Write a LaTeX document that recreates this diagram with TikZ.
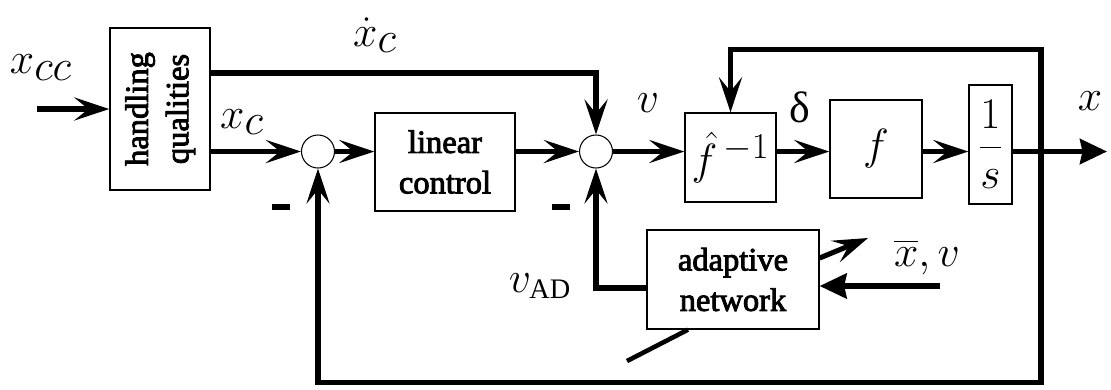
\documentclass[tikz,border=0pt]{standalone}
\usepackage{amsmath}
\usepackage{fontspec}
\setmainfont{Liberation Serif}
% texto grueso: relleno y trazo del contorno
\newcommand{\grueso}{\special{pdf:literal direct 2 Tr 0.5 w}}
\newcommand{\fino}{\special{pdf:literal direct 0 Tr}}
\usetikzlibrary{arrows.meta}

\begin{document}
\begin{tikzpicture}[
        bloque/.style={
            draw=black,
            line width=0.75pt,
            fill=white,
            inner sep=0pt,
            align=center,
            font=\fontsize{18.5}{23}\selectfont
        },
        suma/.style={
            circle,
            draw=black,
            line width=0.6pt,
            minimum size=6.6mm,
            inner sep=0pt
        },
        senal/.style={
            line width=2.9pt,
            -{Stealth[length=7mm,width=4.6mm,inset=2.8mm]}
        },
        salida/.style={
            line width=2.9pt,
            -{Stealth[length=5.4mm,width=5mm,inset=0.5mm]}
        },
        linea/.style={line width=2.6pt},
        etiq/.style={
            inner sep=0pt,
            font=\fontsize{33}{35}\selectfont
        }
    ]
    \useasboundingbox (0,0) rectangle (22.22,-7.78);

    % Bloques
    \node[bloque, minimum width=20mm, minimum height=32.4mm] (hq) at (3.2,-2.18)
        {\grueso\rotatebox{90}{\begin{tabular}{@{}c@{}}handling\\qualities\end{tabular}}\fino};
    \node[bloque, minimum width=28mm, minimum height=19.6mm] (lc) at (8.9,-3.24) {\grueso linear\\control\fino};
    \node[bloque, minimum width=18.2mm, minimum height=17.8mm, font=\fontsize{30}{32}\selectfont] (finv) at (14.61,-3.15)
        {$\hat{f}^{\,-1}$};
    \node[bloque, minimum width=18.4mm, minimum height=19.6mm, font=\fontsize{31}{33}\selectfont] (f) at (17.52,-2.98) {$f$};
    \node[bloque, minimum width=8.6mm, minimum height=23.8mm, font=\fontsize{27}{29}\selectfont] (int) at (19.81,-2.89)
        {$\dfrac{1}{s}$};
    \node[bloque, minimum width=34.4mm, minimum height=19.8mm] (an) at (14.66,-5.59) {\grueso adaptive\\network\fino};

    % Sumadores
    \node[suma] (s1) at (6.36,-3.03) {};
    \node[suma] (s2) at (11.92,-3.03) {};

    % Puntos libres
    \coordinate (entrada) at (0.74,-2.18);
    \coordinate (rama)    at (20.82,-3.03);
    \coordinate (arriba)  at (20.82,-0.99);
    \coordinate (abajo)   at (20.82,-7.65);
    \coordinate (fin)     at (22.14,-3.03);
    \coordinate (sal)     at (17.36,-4.76);
    \coordinate (ent)     at (18.8,-5.72);
    \coordinate (ajuste)  at (12.54,-7.22);

    % Conexiones
    \draw[senal] (entrada) -- (hq.west);
    \draw[senal] (hq.east |- 0,-1.46) -| (s2);
    \draw[senal] (hq.east |- s1) -- (s1);
    \draw[senal] (s1) -- (s1 -| lc.west);
    \draw[senal] (s2 -| lc.east) -- (s2);
    \draw[senal] (s2) -- (s2 -| finv.west);
    \draw[senal] (s2 -| finv.east) -- (s2 -| f.west);
    \draw[senal] (s2 -| f.east) -- (s2 -| int.west);
    \draw[salida] (s2 -| int.east) -- (fin);
    \draw[senal] (rama) -- (arriba) -| (finv.north);
    \draw[senal] (rama) -- (abajo) -| (s1);
    \draw[senal] ([yshift=-1.7mm]an.west) -| (s2);
    \draw[senal] ([yshift=4.3mm]an.east) -- (sal);
    \draw[salida] (ent) -- (ent -| an.east);
    \draw[linea] (ajuste) -- ([xshift=-9mm]an.south);

    % Etiquetas
    \node[etiq] (lxcc)   at (0.82,-1.35)  {$x_{cc}$};
    \node[etiq] (lxc)    at (4.84,-2.44)  {$x_{c}$};
    \node[etiq] (lxdot)  at (7.5,-0.7)    {$\dot{x}_{c}$};
    \node[etiq] (lv)     at (12.96,-2.06) {$v$};
    \node[etiq, font=\fontsize{25}{27}\selectfont] (ldelta) at (16.0,-2.14) {δ};
    \node[etiq] (lx)     at (21.8,-2.02)  {$x$};
    \node[etiq] (menos1) at (5.62,-4.14) {\rule{3.6mm}{1.1mm}};
    \node[etiq] (menos2) at (11.22,-4.14) {\rule{3.6mm}{1.1mm}};
    \node[etiq, font=\fontsize{23}{25}\selectfont] (lvad) at (10.8,-5.72) {$v_{\text{AD}}$};
    \node[etiq] (lxv)    at (18.54,-5.14) {$\overline{x}, v$};

\end{tikzpicture}
\end{document}
